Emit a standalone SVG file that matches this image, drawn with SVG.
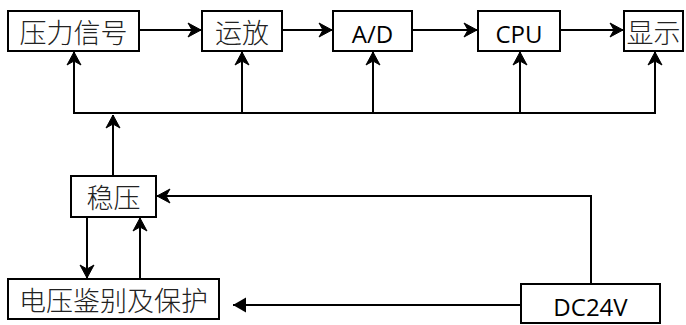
<svg xmlns="http://www.w3.org/2000/svg" width="686" height="325" viewBox="0 0 686 325">
<style>
.box{fill:#fff;stroke:#000;stroke-width:2}
.cjk{font-family:"Noto Sans CJK SC","Noto Sans",sans-serif;font-size:27px;font-weight:300;fill:#222;text-anchor:middle;dominant-baseline:central}
.lat{font-family:"Open Sans","Liberation Sans",sans-serif;font-size:24px;fill:#000;text-anchor:middle;dominant-baseline:central}
.ln{fill:none;stroke:#000;stroke-width:2}
</style>
<defs>
<marker id="arr" markerUnits="userSpaceOnUse" markerWidth="18" markerHeight="18" viewBox="-15 -9 18 18" refX="0" refY="0" orient="auto">
<path d="M0,0 L-13,-7 L-9,0 L-13,7 Z" fill="#000" stroke="#000" stroke-width="1" stroke-linejoin="miter"/>
</marker>
<marker id="tri" markerUnits="userSpaceOnUse" markerWidth="18" markerHeight="18" viewBox="-15 -9 18 18" refX="0" refY="0" orient="auto">
<path d="M0,0 L-13,-7.5 L-13,7.5 Z" fill="#000"/>
</marker>
</defs>
<g id="connectors">
<line class="ln" x1="139" y1="30" x2="201" y2="30" marker-end="url(#arr)"/>
<line class="ln" x1="282" y1="30" x2="332" y2="30" marker-end="url(#arr)"/>
<line class="ln" x1="412" y1="30" x2="477" y2="30" marker-end="url(#arr)"/>
<line class="ln" x1="560" y1="30" x2="623" y2="30" marker-end="url(#arr)"/>
<line class="ln" x1="73" y1="113" x2="656" y2="113"/>
<line class="ln" x1="74" y1="113" x2="74" y2="52" marker-end="url(#arr)"/>
<line class="ln" x1="242" y1="113" x2="242" y2="52" marker-end="url(#arr)"/>
<line class="ln" x1="373" y1="113" x2="373" y2="52" marker-end="url(#arr)"/>
<line class="ln" x1="520" y1="113" x2="520" y2="52" marker-end="url(#arr)"/>
<line class="ln" x1="655" y1="113" x2="655" y2="52" marker-end="url(#arr)"/>
<line class="ln" x1="113" y1="176" x2="113" y2="115" marker-end="url(#arr)"/>
<line class="ln" x1="87" y1="217" x2="87" y2="278" marker-end="url(#arr)"/>
<line class="ln" x1="140" y1="279" x2="140" y2="218" marker-end="url(#arr)"/>
<path class="ln" d="M591,284 V196 H157" marker-end="url(#arr)"/>
<line class="ln" x1="521" y1="305" x2="233" y2="305" marker-end="url(#tri)"/>
</g>
<g id="n_pressure"><rect class="box" x="8" y="11" width="131" height="40"/><text class="cjk" x="73.5" y="31">压力信号</text></g>
<g id="n_amp"><rect class="box" x="202" y="11" width="80" height="40"/><text class="cjk" x="242" y="31">运放</text></g>
<g id="n_ad"><rect class="box" x="333" y="11" width="79" height="40"/><text class="lat" x="372.5" y="33">A/D</text></g>
<g id="n_cpu"><rect class="box" x="478" y="11" width="82" height="40"/><text class="lat" x="519" y="33">CPU</text></g>
<g id="n_display"><rect class="box" x="624" y="11" width="59" height="40"/><text class="cjk" x="653.5" y="31">显示</text></g>
<g id="n_reg"><rect class="box" x="71" y="176" width="85" height="41"/><text class="cjk" x="113.5" y="196.5">稳压</text></g>
<g id="n_protect"><rect class="box" x="8" y="279" width="211" height="40"/><text class="cjk" x="113.5" y="299">电压鉴别及保护</text></g>
<g id="n_dc"><rect class="box" x="521" y="284" width="139" height="39"/><text class="lat" x="590.5" y="306">DC24V</text></g>
</svg>
